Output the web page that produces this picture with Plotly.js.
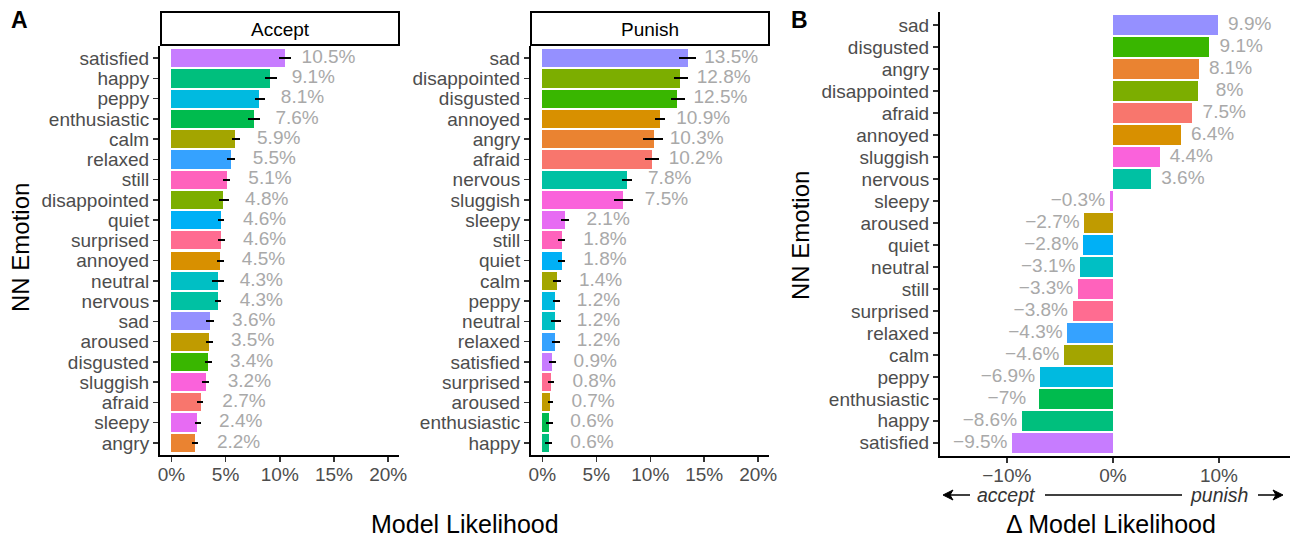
<!DOCTYPE html>
<html>
<head>
<meta charset="utf-8">
<script src="https://cdn.plot.ly/plotly-3.0.1.min.js"></script>
<style>html,body{margin:0;padding:0;background:#fff;}#chart{width:1290px;height:537px;}</style>
</head>
<body>
<div id="chart"></div>
<script>
// ---- DATA ----
const emotions = ["afraid","angry","annoyed","aroused","calm","disappointed","disgusted","enthusiastic","happy","nervous","neutral","peppy","quiet","relaxed","sad","satisfied","sleepy","sluggish","still","surprised"];
const palette = ["#F8766D","#EA8331","#D89000","#C09B00","#A3A500","#7CAE00","#39B600","#00BB4E","#00BF7D","#00C1A3","#00BFC4","#00BAE0","#00B0F6","#35A2FF","#9590FF","#C77CFF","#E76BF3","#FA62DB","#FF62BC","#FF6C91"];

// Accept panel (top to bottom)
const acceptCats = ["satisfied","happy","peppy","enthusiastic","calm","relaxed","still","disappointed","quiet","surprised","annoyed","neutral","nervous","sad","aroused","disgusted","sluggish","afraid","sleepy","angry"];
const acceptVals = [10.5,9.1,8.1,7.6,5.9,5.5,5.1,4.8,4.6,4.6,4.5,4.3,4.3,3.6,3.5,3.4,3.2,2.7,2.4,2.2];
const acceptLo   = [9.93,8.68,7.67,7.1,5.6,5.17,4.78,4.4,4.3,4.3,4.2,3.78,4.0,3.23,3.23,3.1,2.8,2.36,2.17,1.9];
const acceptHi   = [11.03,9.7,8.68,8.2,6.3,5.88,5.45,5.27,4.9,4.95,4.9,4.9,4.6,3.92,3.8,3.73,3.5,2.94,2.7,2.5];
const acceptLabels = ["10.5%","9.1%","8.1%","7.6%","5.9%","5.5%","5.1%","4.8%","4.6%","4.6%","4.5%","4.3%","4.3%","3.6%","3.5%","3.4%","3.2%","2.7%","2.4%","2.2%"];

// Punish panel (top to bottom)
const punishCats = ["sad","disappointed","disgusted","annoyed","angry","afraid","nervous","sluggish","sleepy","still","quiet","calm","peppy","neutral","relaxed","satisfied","surprised","aroused","enthusiastic","happy"];
const punishVals = [13.5,12.8,12.5,10.9,10.3,10.2,7.8,7.5,2.1,1.8,1.8,1.4,1.2,1.2,1.2,0.9,0.8,0.7,0.6,0.6];
const punishLo   = [12.65,12.17,11.95,10.41,9.37,9.52,7.37,6.67,1.72,1.44,1.44,1.0,0.95,0.83,0.86,0.6,0.55,0.49,0.34,0.28];
const punishHi   = [14.25,13.49,13.18,11.4,11.18,10.81,8.27,8.39,2.46,2.09,2.09,1.7,1.6,1.7,1.6,1.3,1.1,0.98,0.95,0.86];
const punishLabels = ["13.5%","12.8%","12.5%","10.9%","10.3%","10.2%","7.8%","7.5%","2.1%","1.8%","1.8%","1.4%","1.2%","1.2%","1.2%","0.9%","0.8%","0.7%","0.6%","0.6%"];

// Delta panel B (top to bottom)
const deltaCats = ["sad","disgusted","angry","disappointed","afraid","annoyed","sluggish","nervous","sleepy","aroused","quiet","neutral","still","surprised","relaxed","calm","peppy","enthusiastic","happy","satisfied"];
const deltaVals = [9.9,9.1,8.1,8.0,7.5,6.4,4.4,3.6,-0.3,-2.7,-2.8,-3.1,-3.3,-3.8,-4.3,-4.6,-6.9,-7.0,-8.6,-9.5];
const deltaLabels = ["9.9%","9.1%","8.1%","8%","7.5%","6.4%","4.4%","3.6%","\u22120.3%","\u22122.7%","\u22122.8%","\u22123.1%","\u22123.3%","\u22123.8%","\u22124.3%","\u22124.6%","\u22126.9%","\u22127%","\u22128.6%","\u22129.5%"];

const xTicksA = [0,5,10,15,20];
const xTickTextA = ["0%","5%","10%","15%","20%"];
const xTicksB = [-10,0,10];
const xTickTextB = ["\u221210%","0%","10%"];

// ---- BUILD ----
const W = 1290, H = 537;
const px = v => v / W;
const py = v => 1 - v / H;
const colorOf = c => palette[emotions.indexOf(c)];
const FONT = "Liberation Sans, Arial, Helvetica, sans-serif";
const labelGrey = "#A9A9A9";

function barTrace(cats, vals, lo, hi, xa, ya) {
  const t = {
    type: "bar", orientation: "h", y: cats, x: vals, width: 0.9,
    marker: { color: cats.map(colorOf) },
    xaxis: xa, yaxis: ya, hoverinfo: "skip", showlegend: false
  };
  if (lo) {
    t.error_x = { type: "data", symmetric: false,
      array: hi.map((h, i) => h - vals[i]),
      arrayminus: lo.map((l, i) => vals[i] - l),
      color: "black", thickness: 2, width: 0 };
  }
  return t;
}
function textTrace(cats, vals, labels, offset, xa, ya) {
  return {
    type: "scatter", mode: "text", y: cats,
    x: vals.map(v => v + (v >= 0 ? offset : -offset)),
    text: labels, textposition: "middle center",
    textfont: { family: FONT, size: 19, color: labelGrey },
    xaxis: xa, yaxis: ya, hoverinfo: "skip", showlegend: false, cliponaxis: false
  };
}

const data = [
  barTrace(acceptCats, acceptVals, acceptLo, acceptHi, "x", "y"),
  textTrace(acceptCats, acceptVals, acceptLabels, 4, "x", "y"),
  barTrace(punishCats, punishVals, punishLo, punishHi, "x2", "y2"),
  textTrace(punishCats, punishVals, punishLabels, 4, "x2", "y2"),
  barTrace(deltaCats, deltaVals, null, null, "x3", "y3"),
  textTrace(deltaCats, deltaVals, deltaLabels, 3, "x3", "y3")
];

const tickFont = { family: FONT, size: 19, color: "#4D4D4D" };
function xAxis(domain, range, ticks, tickText, anchor) {
  return { domain: domain, range: range, anchor: anchor, tickmode: "array", tickvals: ticks, ticktext: tickText,
    showline: true, linecolor: "black", linewidth: 2, ticks: "outside", ticklen: 5, tickwidth: 1.5,
    tickcolor: "#333", showgrid: false, zeroline: false, tickfont: tickFont, fixedrange: true,
    ticklabelstandoff: -4 };
}
function yAxis(domain, cats, anchor) {
  return { domain: domain, type: "category", categoryorder: "array", categoryarray: cats,
    tickmode: "array", tickvals: cats, ticktext: cats,
    range: [cats.length - 0.4, -0.6], anchor: anchor,
    showline: true, linecolor: "black", linewidth: 2, ticks: "outside", ticklen: 5, tickwidth: 1.5,
    tickcolor: "#333", showgrid: false, zeroline: false, tickfont: tickFont, fixedrange: true };
}

const yDomA = [py(455), py(46)];
const yDomB = [py(456), py(12)];

const layout = {
  width: W, height: H, margin: { l: 0, r: 0, t: 0, b: 0 },
  paper_bgcolor: "white", plot_bgcolor: "white",
  font: { family: FONT },
  bargap: 0,
  xaxis: xAxis([px(160), px(399)], [-1.05, 21.0], xTicksA, xTickTextA, "y"),
  yaxis: yAxis(yDomA, acceptCats, "x"),
  xaxis2: xAxis([px(531), px(769)], [-1.05, 21.0], xTicksA, xTickTextA, "y2"),
  yaxis2: yAxis(yDomA, punishCats, "x2"),
  xaxis3: xAxis([px(940), px(1290)], [-16.3, 16.7], xTicksB, xTickTextB, "y3"),
  yaxis3: yAxis(yDomB, deltaCats, "x3"),
  shapes: [
    { type: "rect", xref: "paper", yref: "paper", x0: px(161), x1: px(399), y0: py(45), y1: py(12),
      line: { color: "black", width: 2 }, fillcolor: "white" },
    { type: "rect", xref: "paper", yref: "paper", x0: px(531), x1: px(769), y0: py(45), y1: py(12),
      line: { color: "black", width: 2 }, fillcolor: "white" },
    { type: "line", xref: "paper", yref: "paper", x0: px(1045), x1: px(1182), y0: py(495), y1: py(495),
      line: { color: "black", width: 1.5 } },
    { type: "line", xref: "paper", yref: "paper", x0: px(946), x1: px(970), y0: py(495), y1: py(495),
      line: { color: "black", width: 1.5 } },
    { type: "line", xref: "paper", yref: "paper", x0: px(1258), x1: px(1280), y0: py(495), y1: py(495),
      line: { color: "black", width: 1.5 } },
    { type: "path", xref: "paper", yref: "paper",
      path: `M ${px(943)} ${py(495)} L ${px(953)} ${py(490)} L ${px(950)} ${py(495)} L ${px(953)} ${py(500)} Z`,
      fillcolor: "black", line: { color: "black", width: 1 } },
    { type: "path", xref: "paper", yref: "paper",
      path: `M ${px(1283)} ${py(495)} L ${px(1273)} ${py(490)} L ${px(1276)} ${py(495)} L ${px(1273)} ${py(500)} Z`,
      fillcolor: "black", line: { color: "black", width: 1 } }
  ],
  annotations: [
    { text: "<b>A</b>", xref: "paper", yref: "paper", x: px(19), y: py(20), showarrow: false,
      font: { family: FONT, size: 23, color: "black" }, xanchor: "center", yanchor: "middle" },
    { text: "<b>B</b>", xref: "paper", yref: "paper", x: px(799), y: py(20), showarrow: false,
      font: { family: FONT, size: 23, color: "black" }, xanchor: "center", yanchor: "middle" },
    { text: "Accept", xref: "paper", yref: "paper", x: px(280), y: py(29), showarrow: false,
      font: { family: FONT, size: 19, color: "black" }, xanchor: "center", yanchor: "middle" },
    { text: "Punish", xref: "paper", yref: "paper", x: px(650), y: py(29), showarrow: false,
      font: { family: FONT, size: 19, color: "black" }, xanchor: "center", yanchor: "middle" },
    { text: "NN Emotion", xref: "paper", yref: "paper", x: px(21), y: py(248), showarrow: false, textangle: -90,
      font: { family: FONT, size: 24, color: "black" }, xanchor: "center", yanchor: "middle" },
    { text: "NN Emotion", xref: "paper", yref: "paper", x: px(800), y: py(236), showarrow: false, textangle: -90,
      font: { family: FONT, size: 24, color: "black" }, xanchor: "center", yanchor: "middle" },
    { text: "Model Likelihood", xref: "paper", yref: "paper", x: px(465), y: py(524), showarrow: false,
      font: { family: FONT, size: 25, color: "black" }, xanchor: "center", yanchor: "middle" },
    { text: "\u0394 Model Likelihood", xref: "paper", yref: "paper", x: px(1111), y: py(524), showarrow: false,
      font: { family: FONT, size: 25, color: "black" }, xanchor: "center", yanchor: "middle" },
    { text: "<i>accept</i>", xref: "paper", yref: "paper", x: px(1006), y: py(495), showarrow: false,
      font: { family: FONT, size: 19.5, color: "#333" }, xanchor: "center", yanchor: "middle" },
    { text: "<i>punish</i>", xref: "paper", yref: "paper", x: px(1219), y: py(495), showarrow: false,
      font: { family: FONT, size: 19.5, color: "#333" }, xanchor: "center", yanchor: "middle" }
  ]
};

Plotly.newPlot("chart", data, layout, { staticPlot: true, displayModeBar: false });
</script>
</body>
</html>
